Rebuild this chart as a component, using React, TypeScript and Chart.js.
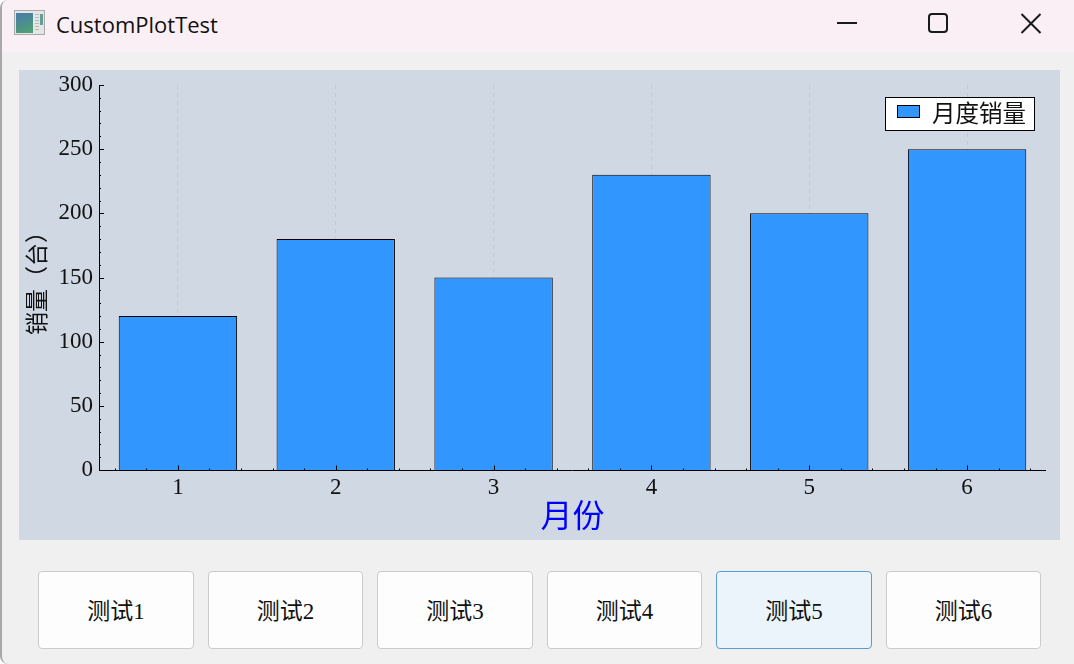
import { useEffect, useRef } from 'react'
import { Chart, registerables } from 'chart.js'

Chart.register(...registerables)

const months = ['1', '2', '3', '4', '5', '6']
const sales = [120, 180, 150, 230, 200, 250]
const buttons = ['测试1', '测试2', '测试3', '测试4', '测试5', '测试6']
const buttonLefts = [38, 208, 377, 547, 716, 886]
const buttonWidths = [156, 155, 156, 155, 156, 155]

const serif = '"Liberation Serif", "Noto Sans CJK SC", serif'
const barColor = '#3296ff'

// QCustomPlot style ticks: they point into the plot and are drawn over the bars
const insideTicks = {
  id: 'insideTicks',
  afterDatasetsDraw(chart: Chart) {
    const { ctx, chartArea, scales: { x, y } } = chart
    ctx.save()
    ctx.strokeStyle = '#000'
    ctx.lineWidth = 1
    const line = (x1: number, y1: number, x2: number, y2: number) => {
      ctx.beginPath()
      ctx.moveTo(x1, y1)
      ctx.lineTo(x2, y2)
      ctx.stroke()
    }
    const base = Math.round(chartArea.bottom) + 0.5
    line(chartArea.left, base, chartArea.right, base)
    for (let v = 0; v <= 300; v += 10) {
      const py = Math.round(y.getPixelForValue(v)) + 0.5
      line(x.left, py, x.left + (v % 50 === 0 ? 5 : 2), py)
    }
    for (let i = 0; i < months.length; i++) {
      for (let k = -2; k <= 2; k++) {
        const px = Math.round(x.getPixelForValue(i + k / 5)) + 0.5
        line(px, base, px, base - (k === 0 ? 5 : 2))
      }
    }
    ctx.restore()
  },
}

const boxedLegend = {
  id: 'boxedLegend',
  afterDraw(chart: Chart) {
    const { ctx } = chart
    const ds = chart.data.datasets[0]
    ctx.save()
    ctx.fillStyle = '#fff'
    ctx.strokeStyle = '#000'
    ctx.lineWidth = 1
    ctx.fillRect(866.5, 27.5, 149, 33)
    ctx.strokeRect(866.5, 27.5, 149, 33)
    ctx.fillStyle = ds.backgroundColor as string
    ctx.fillRect(878.5, 35.5, 22, 12)
    ctx.strokeRect(878.5, 35.5, 22, 12)
    ctx.fillStyle = '#111'
    ctx.font = `23.5px ${serif}`
    ctx.textBaseline = 'middle'
    ctx.fillText(ds.label as string, 913, 45.5)
    ctx.restore()
  },
}

export default function App() {
  const chartRef = useRef<HTMLCanvasElement>(null)

  useEffect(() => {
    if (!chartRef.current) return
    const chart = new Chart(chartRef.current, {
      type: 'bar',
      data: {
        labels: months,
        datasets: [
          {
            label: '月度销量',
            data: sales,
            backgroundColor: barColor,
            borderColor: '#000',
            borderWidth: 1,
            barPercentage: 0.75,
            categoryPercentage: 1,
          },
        ],
      },
      options: {
        responsive: false,
        animation: false,
        layout: { padding: { top: 15, right: 14 } },
        plugins: { legend: { display: false }, tooltip: { enabled: false } },
        scales: {
          x: {
            afterFit: (s: any) => { s.height = 70; s.paddingLeft = 0; s.paddingRight = 0 },
            grid: { color: '#c6c8ca', drawTicks: false, offset: false },
            border: { dash: [4, 4], display: false },
            ticks: { color: '#111', padding: 4, maxRotation: 0, font: { family: serif, size: 23 } },
            title: { display: true, text: '月份', color: '#0000ff', padding: { top: 0, bottom: 2 }, font: { family: serif, size: 32 } },
          },
          y: {
            min: 0,
            max: 300,
            afterFit: (s: any) => { s.width = 80; s.paddingTop = 0; s.paddingBottom = 0 },
            grid: { display: false, tickLength: 0 },
            border: { color: '#000', z: 1 },
            ticks: { stepSize: 50, color: '#111', padding: 6, font: { family: serif, size: 23 } },
            title: { display: true, text: '销量（台）', color: '#111', padding: { top: 6, bottom: 0 }, font: { family: serif, size: 23 } },
          },
        },
      },
      plugins: [insideTicks, boxedLegend],
    })
    return () => chart.destroy()
  }, [])

  return (
    <div style={{ position: 'fixed', left: 0, top: 0, width: 1074, height: 664, background: '#fff', overflow: 'hidden' }}>
      <div style={{ position: 'absolute', inset: 0, background: '#f0f0f0', borderLeft: '2px solid #a8a8a8', borderTopLeftRadius: 8, borderBottomLeftRadius: 8, boxSizing: 'border-box', overflow: 'hidden' }}>
        <div style={{ position: 'absolute', left: 0, top: 0, right: 0, height: 52, background: '#f9eff4' }} />
      </div>

      <div style={{ position: 'absolute', left: 14, top: 10, width: 31, height: 25, background: '#e4e6e6', border: '1px solid #a9a9a9', boxSizing: 'border-box' }}>
        <div style={{ position: 'absolute', left: 1, top: 2, width: 17, height: 20, background: 'linear-gradient(160deg, #4a79ab, #4fa36f)' }} />
        <div style={{ position: 'absolute', left: 20, top: 3, width: 4, height: 1, background: '#b9b9b9', boxShadow: '0 3px #b9b9b9, 0 6px #b9b9b9, 0 9px #b9b9b9, 0 12px #b9b9b9, 0 15px #b9b9b9' }} />
        <div style={{ position: 'absolute', left: 25, top: 3, width: 3, height: 11, background: '#5f9f96' }} />
      </div>
      <div style={{ position: 'absolute', left: 56, top: 10, fontFamily: '"Open Sans", sans-serif', fontSize: 22, lineHeight: '28px', color: '#111' }}>CustomPlotTest</div>

      <svg width={1074} height={52} style={{ position: 'absolute', left: 0, top: 0 }} fill="none" stroke="#1a1a1a" strokeWidth={2}>
        <line x1={837} y1={23} x2={857} y2={23} />
        <rect x={929} y={14} width={18} height={18} rx={3} />
        <line x1={1021.5} y1={14} x2={1040.5} y2={33} />
        <line x1={1040.5} y1={14} x2={1021.5} y2={33} />
      </svg>

      <div style={{ position: 'absolute', left: 19, top: 70, width: 1041, height: 470, background: '#cfd8e3' }}>
        <canvas ref={chartRef} width={1041} height={470} style={{ display: 'block' }} />
      </div>

      {buttons.map((b, i) => (
        <div
          key={b}
          style={{
            position: 'absolute',
            left: buttonLefts[i],
            top: 571,
            width: buttonWidths[i],
            height: 78,
            boxSizing: 'border-box',
            paddingBottom: 2,
            background: i === 4 ? '#ebf3fb' : '#fdfdfd',
            border: `1px solid ${i === 4 ? '#5b9bd0' : '#cbcbcb'}`,
            borderRadius: 4,
            fontFamily: serif,
            fontSize: 23,
            color: '#111',
            display: 'flex',
            alignItems: 'center',
            justifyContent: 'center',
          }}
        >
          {b}
        </div>
      ))}
    </div>
  )
}
